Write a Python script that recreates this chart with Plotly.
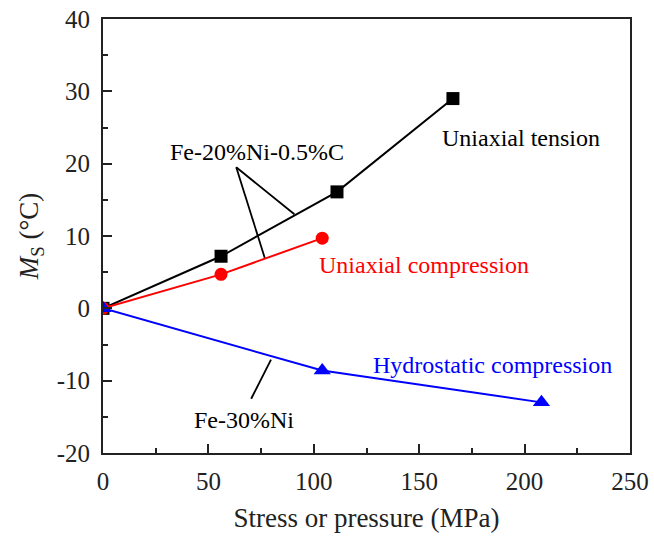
import plotly.graph_objects as go

# Martensite-start temperature shift versus applied stress / pressure
tension_x = [0, 56, 111, 166]
tension_y = [0, 7.2, 16.1, 29.0]

compression_x = [0, 56, 104]
compression_y = [0, 4.7, 9.7]

hydrostatic_x = [0, 104, 208]
hydrostatic_y = [0, -8.6, -13.0]

x_ticks = [0, 50, 100, 150, 200, 250]
y_ticks = [-20, -10, 0, 10, 20, 30, 40]
y_tick_labels = ["-20", "-10", "0", "10", "20", "30", "40"]

FONT = "Liberation Serif, Times New Roman, serif"
BLACK = "#000000"
RED = "#ff0000"
BLUE = "#0000ff"
AXIS = "#222222"

fig = go.Figure()

fig.add_trace(go.Scatter(
    x=tension_x, y=tension_y, mode="lines+markers",
    line=dict(color=BLACK, width=2),
    marker=dict(symbol="square", size=13, color=BLACK),
    name="Uniaxial tension", showlegend=False,
))
fig.add_trace(go.Scatter(
    x=compression_x, y=compression_y, mode="lines+markers",
    line=dict(color=RED, width=2),
    marker=dict(symbol="circle", size=13, color=RED),
    name="Uniaxial compression", showlegend=False,
))
fig.add_trace(go.Scatter(
    x=hydrostatic_x, y=hydrostatic_y, mode="lines+markers",
    line=dict(color=BLUE, width=2),
    marker=dict(symbol="triangle-up", size=15, color=BLUE),
    name="Hydrostatic compression", showlegend=False,
))

# Leader lines tying the alloy labels to their curves
leaders = [
    (63.2, 19.5, 90.8, 13.0),
    (63.2, 19.5, 76.7, 7.0),
    (70.3, -12.5, 79.7, -7.1),
]
for x0, y0, x1, y1 in leaders:
    fig.add_shape(type="line", x0=x0, y0=y0, x1=x1, y1=y1,
                  xref="x", yref="y", line=dict(color=BLACK, width=1.8))

labels = [
    ("Fe-20%Ni-0.5%C", 73, 21.6, BLACK),
    ("Fe-30%Ni", 67, -15.4, BLACK),
    ("Uniaxial tension", 198.4, 23.5, BLACK),
    ("Uniaxial compression", 152.1, 5.95, RED),
    ("Hydrostatic compression", 185, -7.9, BLUE),
]
for text, x, y, color in labels:
    fig.add_annotation(x=x, y=y, text=text, showarrow=False,
                       xanchor="center", yanchor="middle",
                       font=dict(family=FONT, size=24, color=color))

axis_common = dict(
    showline=True, linecolor=AXIS, linewidth=2, mirror=True,
    ticks="inside", ticklen=9, tickwidth=2, tickcolor=AXIS,
    showgrid=False, zeroline=False, automargin=False,
    tickfont=dict(family=FONT, size=25, color=AXIS),
)

fig.update_xaxes(
    range=[0, 250], tickvals=x_ticks,
    ticklabelstandoff=5,
    minor=dict(ticks="inside", ticklen=5, tickwidth=2, tickcolor=AXIS, dtick=25, tick0=0),
    title=dict(text="Stress or pressure (MPa)", standoff=14,
               font=dict(family=FONT, size=27, color=AXIS)),
    **axis_common,
)
fig.update_yaxes(
    range=[-20, 40], tickvals=y_ticks, ticktext=y_tick_labels,
    ticklabelstandoff=6,
    minor=dict(ticks="inside", ticklen=5, tickwidth=2, tickcolor=AXIS, dtick=5, tick0=0),
    title=dict(text="<i>M</i><sub>S</sub> (°C)", standoff=10,
               font=dict(family=FONT, size=27, color=AXIS)),
    **axis_common,
)

fig.update_layout(
    width=654, height=536,
    margin=dict(l=103, r=24, t=19, b=83),
    plot_bgcolor="white", paper_bgcolor="white",
    showlegend=False,
)

fig.write_html("out.html")
